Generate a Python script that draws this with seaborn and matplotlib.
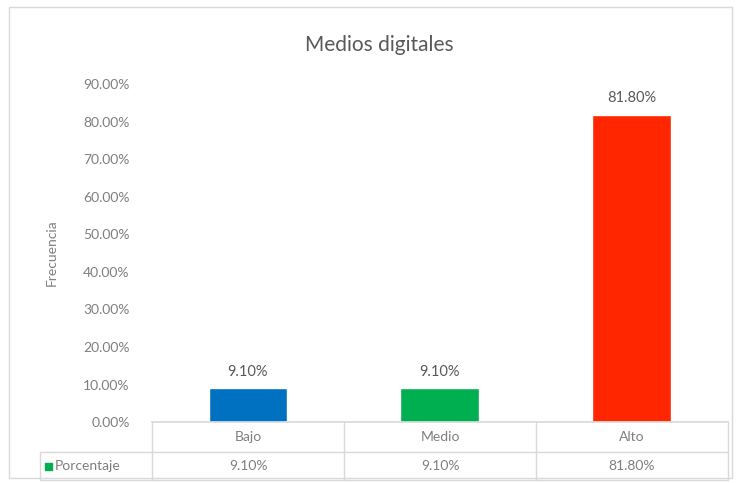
import matplotlib
matplotlib.use("Agg")
import matplotlib.pyplot as plt
import seaborn as sns
import pandas as pd
from matplotlib.ticker import FuncFormatter

categories = ["Bajo", "Medio", "Alto"]
porcentaje = [0.091, 0.091, 0.818]
bar_colors = ["#0070C0", "#00B050", "#FF2600"]
series_name = "Porcentaje"

sns.set_theme(style="white")
plt.rcParams["font.family"] = ["Lato", "DejaVu Sans"]
txt = "#7F7F7F"

df = pd.DataFrame({"cat": categories, "val": porcentaje})

fig = plt.figure(figsize=(7.41, 4.83), dpi=100)
# outer chart border
fig.patches.append(plt.Rectangle((0.012, 0.01), 0.976, 0.975, transform=fig.transFigure,
                                 fill=False, edgecolor="#D9D9D9", linewidth=1))
ax = fig.add_axes([0.205, 0.126, 0.777, 0.700])

sns.barplot(data=df, x="cat", y="val", hue="cat", palette=bar_colors,
            width=0.41, legend=False, ax=ax, saturation=1)

ax.set_ylim(0, 0.9)
ax.set_yticks([i / 10 for i in range(10)])
ax.yaxis.set_major_formatter(FuncFormatter(lambda v, p: f"{v * 100:.2f}%"))
ax.tick_params(axis="y", colors=txt, labelsize=10, length=0, pad=16)
ax.set_xticks([])
ax.set_xlabel("")
ax.set_ylabel("Frecuencia", color=txt, fontsize=10, labelpad=18)
for s in ["top", "right", "left"]:
    ax.spines[s].set_visible(False)
ax.spines["bottom"].set_color("#D9D9D9")

for i, v in enumerate(porcentaje):
    ax.text(i, v + 0.025, f"{v * 100:.2f}%", ha="center", va="bottom",
            color="#595959", fontsize=10.5)

fig.text(379 / 741, 1 - 45 / 483, "Medios digitales", ha="center", va="center",
         color="#595959", fontsize=15)

# data table below the plot
fx = lambda px: px / 741
fy = lambda py: 1 - py / 483
lc = "#D9D9D9"
fig.add_artist(plt.Line2D([fx(40), fx(728)], [fy(452), fy(452)], color=lc, lw=1))
fig.add_artist(plt.Line2D([fx(40), fx(728)], [fy(480), fy(480)], color=lc, lw=1))
for xb in [152, 344, 536, 728]:
    fig.add_artist(plt.Line2D([fx(xb), fx(xb)], [fy(422), fy(480)], color=lc, lw=1))
fig.add_artist(plt.Line2D([fx(40), fx(40)], [fy(452), fy(480)], color=lc, lw=1))

for i, (c, v) in enumerate(zip(categories, porcentaje)):
    xc = fx(248 + 192 * i)
    fig.text(xc, fy(437), c, ha="center", va="center", color=txt, fontsize=10)
    fig.text(xc, fy(466), f"{v * 100:.2f}%", ha="center", va="center", color=txt, fontsize=10)

fig.patches.append(plt.Rectangle((fx(45), fy(470)), fx(7), 7 / 483, transform=fig.transFigure,
                                 color="#00B050"))
fig.text(fx(55), fy(466), series_name, ha="left", va="center", color=txt, fontsize=10)

fig.savefig("out.png", dpi=100)
